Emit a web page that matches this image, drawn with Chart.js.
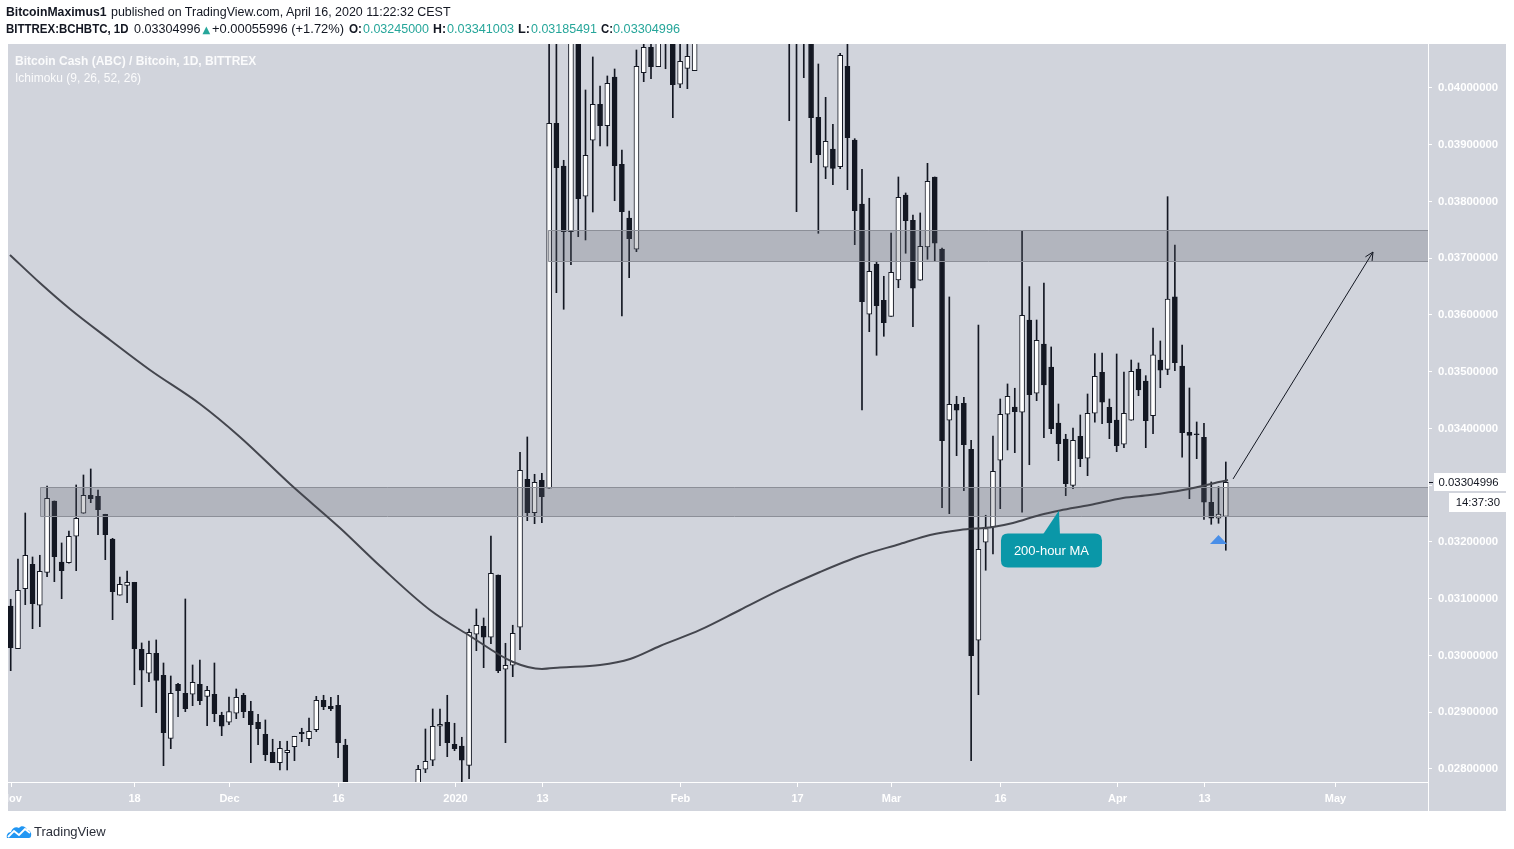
<!DOCTYPE html>
<html><head><meta charset="utf-8">
<title>BCHBTC 1D</title>
<script src="https://cdn.jsdelivr.net/npm/chart.js@4.4.1/dist/chart.umd.min.js"></script>
<style>
html,body{margin:0;padding:0;background:#fff;}
#wrap{position:relative;width:1514px;height:849px;overflow:hidden;background:#fff;}
#c{position:absolute;left:0;top:0;}
.tx{position:absolute;white-space:nowrap;font-family:"Liberation Sans",Arial,sans-serif;font-size:12px;line-height:12px;color:#131722;transform-origin:0 0;}
.b{font-weight:bold;}
.t{color:#26a69a;}
.tri{font-family:"DejaVu Sans",sans-serif;font-size:10px;}
#foot{position:absolute;left:6px;top:821px;height:20px;display:flex;align-items:center;font-family:"Liberation Sans",Arial,sans-serif;font-size:13px;color:#2a2e39;}
#foot svg{margin-right:2px;}
</style></head><body>
<div id="wrap">
<canvas id="c" width="1514" height="849"></canvas>
<div id="foot"><svg width="26" height="16" viewBox="0 0 26 16"><path d="M1 15 C0 12 2 9 5 9 C6 5 10 3 13 5 C15 2 20 3 21 7 C24 7 26 10 25 13 C25 14 24 15 23 15 Z" fill="#2196f3"/><polyline points="2,14 8,8 13,12 19,6 24,10" fill="none" stroke="#fff" stroke-width="1.8"/></svg><span>TradingView</span></div>
</div>
<script>
// ---------------- data ----------------
// day index 0 = 2019-11-01, one candle per day through 2020-04-16
const open = [0.030873,0.030120,0.031178,0.031607,0.030885,0.031466,0.032723,0.031648,0.031636,0.032101,
 0.032506,0.032823,0.032806,0.032489,0.032053,0.031061,0.031237,0.031290,0.030110,0.029687,
 0.030039,0.029652,0.028541,0.029493,0.029334,0.029317,0.029493,0.029281,0.029317,0.028947,
 0.028823,0.028982,0.029299,0.029017,0.028823,0.028612,0.028295,0.028111,0.028288,0.028393,
 0.028647,0.028534,0.028693,0.029211,0.029105,0.029123,0.028423,0.027550,0.027350,0.027420,
 0.027280,0.027150,0.027320,0.027490,0.027260,0.027370,0.027580,0.027995,0.028154,0.028753,
 0.028823,0.028436,0.028406,0.028065,0.030374,0.030515,0.030321,0.031419,0.029757,0.029828,
 0.030497,0.033105,0.032517,0.033088,0.032947,0.039378,0.038626,0.037468,0.041300,0.038092,
 0.039079,0.039713,0.039336,0.040194,0.038656,0.037710,0.037158,0.040270,0.040718,0.040376,
 0.041100,0.041200,0.040066,0.040347,0.040305,0.041000,0.041600,0.042200,0.042700,0.043600,
 0.043200,0.043000,0.043700,0.043400,0.042600,0.042900,0.042300,0.041900,0.041500,0.041200,
 0.041400,0.039484,0.038603,0.038925,0.038614,0.040383,0.039084,0.037956,0.036013,0.036899,
 0.036259,0.035977,0.036617,0.038115,0.037669,0.036612,0.037199,0.038432,0.037163,0.034145,
 0.034427,0.034444,0.033634,0.030268,0.031995,0.032265,0.033440,0.034251,0.034379,0.034286,
 0.035912,0.034621,0.035489,0.035084,0.034097,0.033815,0.032999,0.033863,0.033475,0.034268,
 0.034991,0.034374,0.034150,0.033722,0.034145,0.035049,0.034837,0.034226,0.035207,0.035043,
 0.036318,0.035102,0.033933,0.033898,0.033845,0.032700,0.032418,0.03245000];
const high = [0.030991,0.031701,0.032511,0.031736,0.031766,0.032987,0.032723,0.031983,0.032194,0.033005,
 0.033181,0.033287,0.032917,0.032489,0.032065,0.031384,0.031489,0.031290,0.030221,0.030256,
 0.030274,0.029868,0.029639,0.029510,0.030996,0.029833,0.029921,0.029458,0.029868,0.029000,
 0.029269,0.029410,0.029334,0.029193,0.028964,0.028864,0.028524,0.028489,0.028489,0.028577,
 0.028718,0.028899,0.029281,0.029299,0.029264,0.029299,0.028524,0.027680,0.027500,0.027600,
 0.027460,0.027390,0.027580,0.027650,0.027440,0.027690,0.028065,0.028705,0.029058,0.029058,
 0.029299,0.028806,0.028559,0.030467,0.030820,0.030661,0.032106,0.031419,0.030215,0.030533,
 0.033581,0.033851,0.033193,0.033211,0.041100,0.041200,0.038726,0.041800,0.041600,0.039965,
 0.040547,0.040036,0.040212,0.040335,0.038908,0.037833,0.040670,0.040900,0.040950,0.041200,
 0.041600,0.041400,0.040900,0.040950,0.041300,0.041800,0.042500,0.043000,0.044000,0.044500,
 0.043800,0.044100,0.044600,0.044000,0.043300,0.043400,0.042800,0.042400,0.042000,0.041800,
 0.041600,0.040423,0.039836,0.039361,0.040612,0.040900,0.039107,0.038568,0.038057,0.036947,
 0.036682,0.037445,0.038432,0.038150,0.037762,0.037798,0.038673,0.038432,0.037180,0.036318,
 0.034568,0.034550,0.033792,0.035824,0.032471,0.033868,0.034520,0.034785,0.034709,0.037481,
 0.036500,0.035912,0.036564,0.035437,0.034432,0.033898,0.034009,0.034238,0.034608,0.035318,
 0.035331,0.034520,0.035313,0.034996,0.035207,0.035155,0.034931,0.035771,0.035542,0.038085,
 0.037234,0.035472,0.034714,0.034115,0.034092,0.033058,0.032975,0.03341003];
const low = [0.029733,0.030120,0.030896,0.030473,0.030508,0.031389,0.031301,0.031001,0.031625,0.031495,
 0.032506,0.032693,0.032129,0.031689,0.030631,0.031061,0.030931,0.029486,0.029098,0.029539,
 0.028993,0.028059,0.028358,0.028922,0.029010,0.029116,0.029133,0.028763,0.028834,0.028587,
 0.028781,0.028887,0.028904,0.028111,0.028429,0.028147,0.028111,0.027983,0.027983,0.028147,
 0.028481,0.028411,0.028658,0.029045,0.029028,0.028199,0.027350,0.027200,0.027050,0.027230,
 0.027020,0.026980,0.027160,0.027200,0.027090,0.027250,0.027490,0.027935,0.028059,0.028411,
 0.028217,0.028323,0.027680,0.027829,0.030085,0.029785,0.030208,0.029697,0.028464,0.029627,
 0.030103,0.032376,0.032323,0.032341,0.032947,0.036393,0.036101,0.036887,0.037380,0.037322,
 0.037815,0.038978,0.038978,0.038014,0.035983,0.036658,0.037116,0.040111,0.040164,0.040376,
 0.040340,0.039477,0.040006,0.039988,0.040305,0.040900,0.041200,0.041700,0.042400,0.042800,
 0.042400,0.042600,0.043000,0.042200,0.041800,0.041900,0.041400,0.039424,0.037821,0.040182,
 0.038684,0.037440,0.038402,0.038296,0.038578,0.038208,0.037239,0.034326,0.035706,0.035290,
 0.035625,0.035977,0.036481,0.037088,0.035794,0.036612,0.036982,0.036957,0.032605,0.032499,
 0.033521,0.032904,0.028147,0.029310,0.031502,0.031789,0.032587,0.033622,0.033574,0.032524,
 0.033362,0.034490,0.033838,0.033909,0.033433,0.032816,0.032940,0.033327,0.033169,0.034110,
 0.034085,0.033821,0.033592,0.033662,0.034145,0.034578,0.033662,0.033909,0.034719,0.034948,
 0.035019,0.033493,0.032763,0.033468,0.032400,0.032312,0.032330,0.03185491];
const close = [0.030138,0.031149,0.031766,0.030913,0.031484,0.032770,0.031741,0.031495,0.032101,0.032418,
 0.032823,0.032763,0.032570,0.032129,0.031125,0.031255,0.031290,0.030120,0.029740,0.030039,
 0.029563,0.028640,0.029334,0.029380,0.029063,0.029528,0.029204,0.029387,0.028975,0.028753,
 0.029010,0.029264,0.029010,0.028781,0.028711,0.028252,0.028111,0.028365,0.028330,0.028577,
 0.028622,0.028665,0.029211,0.029098,0.029063,0.028464,0.027550,0.027350,0.027420,0.027280,
 0.027150,0.027320,0.027490,0.027260,0.027370,0.027580,0.027995,0.028136,0.028753,0.028788,
 0.028464,0.028358,0.028154,0.030409,0.030533,0.030321,0.031449,0.029733,0.029828,0.030392,
 0.033264,0.032517,0.033052,0.032799,0.039378,0.038596,0.037468,0.041400,0.038050,0.038814,
 0.039713,0.039336,0.040083,0.038631,0.037821,0.037345,0.040383,0.040718,0.040376,0.041000,
 0.041300,0.040058,0.040471,0.040559,0.041000,0.041600,0.042200,0.042700,0.043600,0.043200,
 0.043000,0.043700,0.043400,0.042600,0.042900,0.042300,0.041900,0.041500,0.041200,0.041400,
 0.039477,0.038825,0.039061,0.038585,0.040577,0.039125,0.037838,0.036235,0.036770,0.036164,
 0.035865,0.036753,0.038074,0.037662,0.036471,0.037211,0.038356,0.037264,0.033785,0.034427,
 0.034321,0.033715,0.029997,0.031872,0.032235,0.033246,0.034251,0.034568,0.034296,0.035995,
 0.034596,0.035555,0.034767,0.033997,0.033733,0.033028,0.033792,0.033468,0.034268,0.034920,
 0.034462,0.034103,0.033697,0.034268,0.035008,0.034679,0.034138,0.035296,0.035026,0.036282,
 0.035160,0.033926,0.033880,0.033890,0.032700,0.032418,0.032490,0.03304996];

// 200-hour moving average, read at points along the curve (day index, price)
const maDays   = [-0.10,4.03,8.15,13.65,19.14,26.02,31.51,38.39,45.26,50.76,57.63,63.13,69.04,73.02,75.50,81.00,85.12,89.24,94.74,100.24,105.73,111.23,116.73,122.23,126.35,130.47,135.00,137.75,141.46,144.21,148.33,152.87,156.58,161.12,167.30];
const maValues = [0.037058,0.036564,0.036106,0.035560,0.035031,0.034432,0.033851,0.033022,0.032247,0.031577,0.030802,0.030344,0.029886,0.029763,0.029789,0.029833,0.029939,0.030168,0.030450,0.030802,0.031155,0.031472,0.031754,0.031965,0.032124,0.032212,0.032265,0.032335,0.032476,0.032555,0.032652,0.032776,0.032829,0.032917,0.033093];

// x-axis tick labels (day index of each label)
const xTickDays   = [0,17,30,45,61,73,92,108,121,136,152,164,182];
const xTickLabels = ['Nov','18','Dec','16','2020','13','Feb','17','Mar','16','Apr','13','May'];
// y-axis ticks
const yTickValues = [0.028,0.029,0.030,0.031,0.032,0.033,0.034,0.035,0.036,0.037,0.038,0.039,0.040];

// drawn zones (support / resistance), arrow and markers
const zoneFromDay = [73.84, 4.03];
const zoneTop     = [0.037493, 0.032961];
const zoneBottom  = [0.036947, 0.032453];
const arrowFrom = [168.0, 0.033111];
const arrowTo   = [187.23, 0.037110];
const calloutAnchor = [144.07, 0.032555];
const calloutText = '200-hour MA';
const markerDay = 166.0, markerTop = 0.032124, markerBase = 0.031965;

// ---------------- header text ----------------
const N = close.length - 1;
const chg = close[N] - close[N-1];
const pct = chg / close[N-1] * 100;
const wrap = document.getElementById('wrap');
function addText(html, x, baseline, width, cls) {
  const s = document.createElement('div');
  s.className = 'tx' + (cls ? ' ' + cls : '');
  s.innerHTML = html;
  s.style.left = x + 'px';
  s.style.top = (baseline - 10.2) + 'px';
  wrap.appendChild(s);
  const w = s.getBoundingClientRect().width;
  if (width && w > 0) s.style.transform = 'scaleX(' + (width / w) + ')';
}
addText('BitcoinMaximus1', 5.5, 16.5, 100.5, 'b');
addText('published on TradingView.com, April 16, 2020 11:22:32 CEST', 110.5, 16.5, 339.5);
addText('BITTREX:BCHBTC, 1D', 5.5, 33.5, 122.5, 'b');
addText(close[N].toFixed(8), 134, 33.5, 66.5);
addText('<span class="t tri">&#9650;</span>', 202.5, 33.5, 0);
addText('+' + chg.toFixed(8) + ' (+' + pct.toFixed(2) + '%)', 212, 33.5, 132);
addText('O:', 349, 33.5, 13, 'b');
addText(open[N].toFixed(8), 363, 33.5, 66, 't');
addText('H:', 433, 33.5, 13, 'b');
addText(high[N].toFixed(8), 447, 33.5, 67, 't');
addText('L:', 518, 33.5, 12, 'b');
addText(low[N].toFixed(8), 531, 33.5, 66, 't');
addText('C:', 601, 33.5, 12, 'b');
addText(close[N].toFixed(8), 613, 33.5, 67, 't');

// ---------------- chart ----------------
const days = close.map((_, i) => i);
const bodyData = days.map(i => ({x: i, y: [open[i], close[i]]}));
const wickData = days.map(i => ({x: i, y: [low[i], high[i]]}));
const maData = maDays.map((d, i) => ({x: d, y: maValues[i]}));

const XMIN = -0.371, XMAX = 194.79;
const YMIN = 0.0277709, YMAX = 0.0407753;
const PANEL = {left: 8, top: 44, right: 1506, bottom: 811};
const DARK = '#131722';

const deco = {
  id: 'deco',
  beforeDraw(chart) {
    const c = chart.ctx;
    c.save();
    c.fillStyle = '#ffffff';
    c.fillRect(0, 0, chart.width, chart.height);
    c.fillStyle = '#d1d4dc';
    c.fillRect(PANEL.left, PANEL.top, PANEL.right - PANEL.left, PANEL.bottom - PANEL.top);
    c.restore();
  },
  afterDatasetDraw(chart, args) {
    if (args.index !== 1) return; // after candle bodies, before MA line
    const c = chart.ctx, xs = chart.scales.x, ys = chart.scales.y, ca = chart.chartArea;
    c.save();
    for (let k = 0; k < zoneFromDay.length; k++) {
      const x0 = Math.round(xs.getPixelForValue(zoneFromDay[k]));
      const y0 = Math.round(ys.getPixelForValue(zoneTop[k]));
      const y1 = Math.round(ys.getPixelForValue(zoneBottom[k]));
      c.fillStyle = 'rgba(96,100,112,0.27)';
      c.fillRect(x0, y0, ca.right - x0, y1 - y0);
      c.strokeStyle = '#8c8f98';
      c.lineWidth = 1;
      c.beginPath();
      c.moveTo(ca.right, y0 + 0.5); c.lineTo(x0 + 0.5, y0 + 0.5); c.lineTo(x0 + 0.5, y1 + 0.5); c.lineTo(ca.right, y1 + 0.5);
      c.stroke();
    }
    c.restore();
  },
  afterDraw(chart) {
    const c = chart.ctx, xs = chart.scales.x, ys = chart.scales.y, ca = chart.chartArea;
    c.save();
    // separators
    c.fillStyle = '#ffffff';
    c.fillRect(Math.round(ca.right), PANEL.top, 1, PANEL.bottom - PANEL.top);
    c.fillRect(PANEL.left, Math.round(ca.bottom), Math.round(ca.right) - PANEL.left, 1);
    // legend texts
    c.font = 'bold 12px "Liberation Sans", Arial, sans-serif';
    c.fillStyle = 'rgba(255,255,255,0.9)';
    c.textAlign = 'left'; c.textBaseline = 'alphabetic';
    c.fillText('Bitcoin Cash (ABC) / Bitcoin, 1D, BITTREX', 15, 64.5);
    c.font = '12px "Liberation Sans", Arial, sans-serif';
    c.fillText('Ichimoku (9, 26, 52, 26)', 15, 81.5);
    // x axis ticks and labels
    c.save();
    c.beginPath();
    c.rect(PANEL.left, ca.bottom, Math.round(ca.right) - PANEL.left, PANEL.bottom - ca.bottom);
    c.clip();
    c.fillStyle = '#ffffff';
    c.font = 'bold 11px "Liberation Sans", Arial, sans-serif';
    c.textAlign = 'center'; c.textBaseline = 'middle';
    xTickDays.forEach((d, i) => {
      const px = Math.round(xs.getPixelForValue(d));
      c.fillRect(px, Math.round(ca.bottom), 1, 5);
      c.fillText(xTickLabels[i], px + 0.5, 799);
    });
    c.restore();
    // arrow
    const ax0 = xs.getPixelForValue(arrowFrom[0]), ay0 = ys.getPixelForValue(arrowFrom[1]);
    const ax1 = xs.getPixelForValue(arrowTo[0]), ay1 = ys.getPixelForValue(arrowTo[1]);
    c.strokeStyle = DARK; c.lineWidth = 1;
    c.beginPath(); c.moveTo(ax0, ay0); c.lineTo(ax1, ay1); c.stroke();
    const ang = Math.atan2(ay1 - ay0, ax1 - ax0), hl = 9;
    c.beginPath();
    c.moveTo(ax1 - hl * Math.cos(ang - 0.45), ay1 - hl * Math.sin(ang - 0.45));
    c.lineTo(ax1, ay1);
    c.lineTo(ax1 - hl * Math.cos(ang + 0.45), ay1 - hl * Math.sin(ang + 0.45));
    c.stroke();
    // blue marker triangle
    const mx = xs.getPixelForValue(markerDay), my0 = ys.getPixelForValue(markerTop), my1 = ys.getPixelForValue(markerBase);
    c.fillStyle = '#4a8fe8';
    c.beginPath(); c.moveTo(mx, my0); c.lineTo(mx + 8.5, my1); c.lineTo(mx - 8.5, my1); c.closePath(); c.fill();
    // callout
    const px = xs.getPixelForValue(calloutAnchor[0]), py = ys.getPixelForValue(calloutAnchor[1]);
    const bx = px - 58, by = py + 23, bw = 101, bh = 34, r = 7;
    c.fillStyle = '#0a97a8';
    c.beginPath();
    c.moveTo(bx + r, by); c.lineTo(bx + bw - r, by); c.quadraticCurveTo(bx + bw, by, bx + bw, by + r);
    c.lineTo(bx + bw, by + bh - r); c.quadraticCurveTo(bx + bw, by + bh, bx + bw - r, by + bh);
    c.lineTo(bx + r, by + bh); c.quadraticCurveTo(bx, by + bh, bx, by + bh - r);
    c.lineTo(bx, by + r); c.quadraticCurveTo(bx, by, bx + r, by); c.closePath(); c.fill();
    c.beginPath(); c.moveTo(px - 16, by + 1); c.lineTo(px, py); c.lineTo(px + 1, by + 1); c.closePath(); c.fill();
    c.fillStyle = '#ffffff';
    c.font = '13px "Liberation Sans", Arial, sans-serif';
    c.textAlign = 'center'; c.textBaseline = 'middle';
    c.fillText(calloutText, bx + bw / 2, by + bh / 2 + 0.5);
    // last price label on the price axis
    const yc = Math.round(ys.getPixelForValue(close[N]));
    const rx = Math.round(ca.right);
    c.fillStyle = DARK;
    c.fillRect(rx + 1, yc, 4, 1);
    c.fillStyle = '#ffffff';
    c.fillRect(rx + 6, yc - 9, PANEL.right - rx - 6, 18);
    c.fillRect(rx + 21, yc + 11, PANEL.right - rx - 21, 19);
    c.fillStyle = DARK;
    c.font = '11.4px "Liberation Sans", Arial, sans-serif';
    c.textAlign = 'left';
    c.fillText(close[N].toFixed(8), rx + 10.5, yc + 0.5);
    c.textAlign = 'right';
    c.fillText('14:37:30', PANEL.right - 6, yc + 20.5);
    c.restore();
  }
};

new Chart(document.getElementById('c'), {
  type: 'bar',
  data: {
    datasets: [
      {type: 'line', label: '200-hour MA', data: maData, borderColor: '#44464e', borderWidth: 2,
       pointRadius: 0, cubicInterpolationMode: 'monotone', fill: false, order: 0, clip: 0},
      {label: 'BCHBTC body', data: bodyData, grouped: false, barThickness: 5, minBarLength: 1,
       backgroundColor: ctx => (close[ctx.dataIndex] >= open[ctx.dataIndex] ? '#ffffff' : DARK),
       borderColor: DARK, borderWidth: 1, borderSkipped: false, order: 1, clip: 0},
      {label: 'BCHBTC wick', data: wickData, grouped: false, barThickness: 1,
       backgroundColor: DARK, borderWidth: 0, order: 2, clip: 0}
    ]
  },
  options: {
    responsive: false,
    animation: false,
    events: [],
    layout: {padding: {left: 8, top: 44, right: 8, bottom: 67}},
    plugins: {legend: {display: false}, tooltip: {enabled: false}},
    scales: {
      x: {type: 'linear', min: XMIN, max: XMAX, display: false, offset: false},
      y: {
        position: 'right', min: YMIN, max: YMAX,
        afterFit(s) { s.width = 78; },
        afterBuildTicks(s) { s.ticks = yTickValues.map(v => ({value: v})); },
        ticks: {callback: v => Number(v).toFixed(8), color: '#ffffff', padding: 6,
                font: {size: 11.4, weight: 'bold', family: '"Liberation Sans", Arial, sans-serif'}},
        grid: {drawOnChartArea: false, drawTicks: true, tickLength: 4, color: '#ffffff'},
        border: {display: false}
      }
    }
  },
  plugins: [deco]
});
</script>
</body></html>
